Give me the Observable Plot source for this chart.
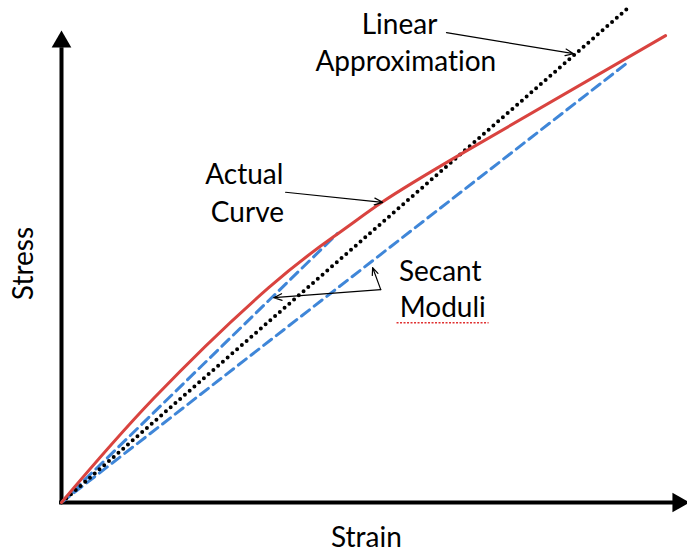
<!DOCTYPE html>
<html>
<head>
<meta charset="utf-8">
<script src="https://cdn.jsdelivr.net/npm/d3@7"></script>
<script src="https://cdn.jsdelivr.net/npm/@observablehq/plot@0.6"></script>
<style>
  html, body { margin: 0; padding: 0; background: #fff; }
  #chart { width: 687px; height: 554px; }
  #chart text { font-variant-ligatures: none; font-feature-settings: "liga" 0; }
</style>
</head>
<body>
<div id="chart"></div>
<script>
// Normalised strain (x) and stress (y), 0–100
const actualStrain = [0, 14.7, 33.1, 44.2, 51.3, 64.2, 96.5];
const actualStress = [0, 20.7, 42.8, 53.6, 59.9, 69.7, 93.0];

const linearStrain = [0, 90.4];
const linearStress = [0, 98.4];

const secantNames = ["short", "short", "long", "long"];
const secantStrain = [0, 44.1, 0, 90.4];
const secantStress = [0, 53.6, 0, 87.6];

const axisLabels = ["Strain", "Stress"];
const noteTexts = ["Linear", "Approximation", "Actual", "Curve", "Secant", "Moduli"];

// annotation placement (data units)
const noteX = [54.0, 55.0, 29.2, 29.7, 60.5, 60.9];
const noteY = [93.4, 85.9, 63.5, 55.8, 44.2, 36.9];
const arrows = [
  {x1: 61.5, y1: 93.6, x2: 81.8, y2: 89.4},
  {x1: 35.8, y1: 61.8, x2: 51.3, y2: 59.8},
  {x1: 51.0, y1: 42.4, x2: 33.9, y2: 40.8},
  {x1: 51.0, y1: 42.4, x2: 49.7, y2: 46.8}
];

const actual = actualStrain.map((x, i) => ({x, y: actualStress[i]}));
const linear = linearStrain.map((x, i) => ({x, y: linearStress[i]}));
const secant = secantStrain.map((x, i) => ({x, y: secantStress[i], s: secantNames[i]}));
const notes = noteTexts.map((t, i) => ({t, x: noteX[i], y: noteY[i]}));

const font = "Lato, 'Open Sans', sans-serif";
const fs = 28;

const chart = Plot.plot({
  width: 687,
  height: 554,
  marginLeft: 61,
  marginRight: 0,
  marginTop: 0,
  marginBottom: 52,
  x: {domain: [0, 100], axis: null},
  y: {domain: [0, 100], axis: null},
  style: {fontFamily: font, background: "#fff", overflow: "visible"},
  marks: [
    // axes
    Plot.ruleX([0], {y1: -0.4, y2: 90.6, stroke: "#000", strokeWidth: 4}),
    Plot.ruleY([0], {x1: -0.3, x2: 97.8, stroke: "#000", strokeWidth: 4}),
    Plot.dot([{x: 0, y: 91.77}], {x: "x", y: "y", symbol: "triangle", r: 7.3, fill: "#000", stroke: "none"}),
    Plot.dot([{x: 98.5, y: 0}], {x: "x", y: "y", symbol: "triangle", r: 7.3, fill: "#000", stroke: "none", rotate: 90}),
    // series
    Plot.line(secant, {x: "x", y: "y", z: "s", stroke: "#3f86d8", strokeWidth: 3, strokeDasharray: "10 6"}),
    Plot.line(linear, {x: "x", y: "y", stroke: "#000", strokeWidth: 4, strokeDasharray: "0 6.3", strokeLinecap: "round"}),
    Plot.line(actual, {x: "x", y: "y", stroke: "#d9433f", strokeWidth: 3, curve: "natural"}),
    // annotation arrows
    Plot.arrow(arrows, {x1: "x1", y1: "y1", x2: "x2", y2: "y2", stroke: "#000", strokeWidth: 1.2, headLength: 11, headAngle: 45}),
    // spell-check underline under "Moduli"
    Plot.ruleY([35.8], {x1: 53.6, x2: 68.3, stroke: "#e03030", strokeWidth: 1.6, strokeDasharray: "2 1.5"}),
    // annotation text
    Plot.text(notes, {x: "x", y: "y", text: "t", fontSize: fs, fill: "#000", textAnchor: "middle", lineAnchor: "bottom", fontFamily: font}),
    // axis labels
    Plot.text([axisLabels[0]], {x: 48.7, y: -8.8, text: d => d, fontSize: fs, fill: "#000", textAnchor: "middle", lineAnchor: "bottom", fontFamily: font}),
    Plot.text([axisLabels[1]], {x: -4.5, y: 47.6, text: d => d, fontSize: fs, fill: "#000", textAnchor: "middle", lineAnchor: "bottom", rotate: -90, fontFamily: font})
  ]
});

document.getElementById("chart").appendChild(chart);
</script>
</body>
</html>
